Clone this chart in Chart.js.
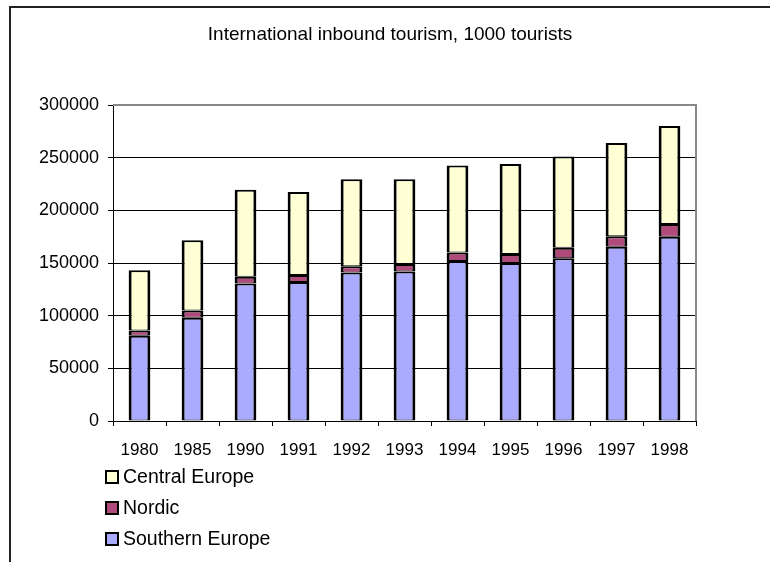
<!DOCTYPE html>
<html>
<head>
<meta charset="utf-8">
<script src="https://cdn.jsdelivr.net/npm/chart.js@4/dist/chart.umd.min.js"></script>
<style>
  html, body { margin: 0; padding: 0; background: #fff; }
  #wrap { width: 770px; height: 562px; position: relative; }
</style>
</head>
<body>
<div id="wrap"><canvas id="chart"></canvas></div>
<script>
'use strict';

var years = ['1980', '1985', '1990', '1991', '1992', '1993', '1994', '1995', '1996', '1997', '1998'];
var southern = [81000, 98000, 130500, 132000, 141000, 142000, 152000, 150000, 154500, 165500, 175000];
var nordic = [5000, 7000, 6500, 6500, 6000, 7000, 8000, 8500, 10000, 10000, 12000];
var central = [57000, 66500, 82500, 79000, 82500, 80500, 82500, 85500, 86500, 88500, 93000];
var seriesNames = ['Southern Europe', 'Nordic', 'Central Europe'];
var seriesColors = ['#aaaaff', '#b04a7b', '#ffffd5'];
var titleText = 'International inbound tourism, 1000 tourists';

var FONT = 'Liberation Sans, Arial, sans-serif';

var framePlugin = {
    id: 'frame',
    beforeDraw: function(chart) {
        var ctx = chart.ctx;
        ctx.save();
        ctx.fillStyle = '#fff';
        ctx.fillRect(0, 0, chart.width, chart.height);
        ctx.strokeStyle = '#222';
        ctx.lineWidth = 2;
        ctx.beginPath();
        ctx.moveTo(10, chart.height);
        ctx.lineTo(10, 7);
        ctx.lineTo(chart.width, 7);
        ctx.stroke();
        ctx.restore();
    },
    afterDraw: function(chart) {
        var ctx = chart.ctx;
        var a = chart.chartArea;
        ctx.save();
        // gray top and right edge of the plot area
        ctx.strokeStyle = '#888';
        ctx.lineWidth = 2;
        ctx.beginPath();
        ctx.moveTo(a.left, a.top);
        ctx.lineTo(a.right, a.top);
        ctx.lineTo(a.right, a.bottom);
        ctx.stroke();

        // title
        ctx.fillStyle = '#000';
        ctx.font = '19px ' + FONT;
        ctx.textAlign = 'center';
        ctx.textBaseline = 'middle';
        ctx.fillText(titleText, 390, 35);

        // legend, one entry per line, top series first
        ctx.textAlign = 'left';
        ctx.font = '19.5px ' + FONT;
        var ds = chart.data.datasets;
        for (var i = ds.length - 1, row = 0; i >= 0; i--, row++) {
            var y = 477 + row * 31;
            ctx.fillStyle = ds[i].backgroundColor;
            ctx.fillRect(106, y - 6, 12, 12);
            ctx.strokeStyle = '#000';
            ctx.lineWidth = 2;
            ctx.strokeRect(106, y - 6, 12, 12);
            ctx.fillStyle = '#000';
            ctx.fillText(ds[i].label, 123, y + 1);
        }
        ctx.restore();
    }
};

var datasets = [southern, nordic, central].map(function(vals, i) {
    return {
        label: seriesNames[i],
        data: vals,
        backgroundColor: seriesColors[i],
        borderColor: '#000',
        borderWidth: { left: 3, right: 3, top: 2, bottom: 1 },
        borderSkipped: false,
        barPercentage: 0.41,
        categoryPercentage: 1.0
    };
});

new Chart(document.getElementById('chart'), {
    type: 'bar',
    data: { labels: years, datasets: datasets },
    options: {
        responsive: true,
        maintainAspectRatio: false,
        animation: false,
        layout: { padding: { top: 105, right: 74, bottom: 101, left: 0 } },
        plugins: {
            legend: { display: false },
            title: { display: false },
            tooltip: { enabled: false }
        },
        scales: {
            x: {
                stacked: true,
                afterFit: function(s) { s.height = 40; },
                border: { color: '#000', width: 1 },
                grid: { offset: true, drawOnChartArea: false, drawTicks: true, tickLength: 5, color: '#000' },
                ticks: { color: '#000', font: { family: FONT, size: 17 }, padding: 14, maxRotation: 0 }
            },
            y: {
                stacked: true,
                min: 0,
                max: 300000,
                afterFit: function(s) { s.width = 113; },
                border: { color: '#000', width: 1 },
                grid: { color: '#000', tickLength: 5 },
                ticks: {
                    stepSize: 50000, color: '#000', font: { family: FONT, size: 18 }, padding: 9,
                    callback: function(v) { return String(v); }
                }
            }
        }
    },
    plugins: [framePlugin]
});
</script>
</body>
</html>
